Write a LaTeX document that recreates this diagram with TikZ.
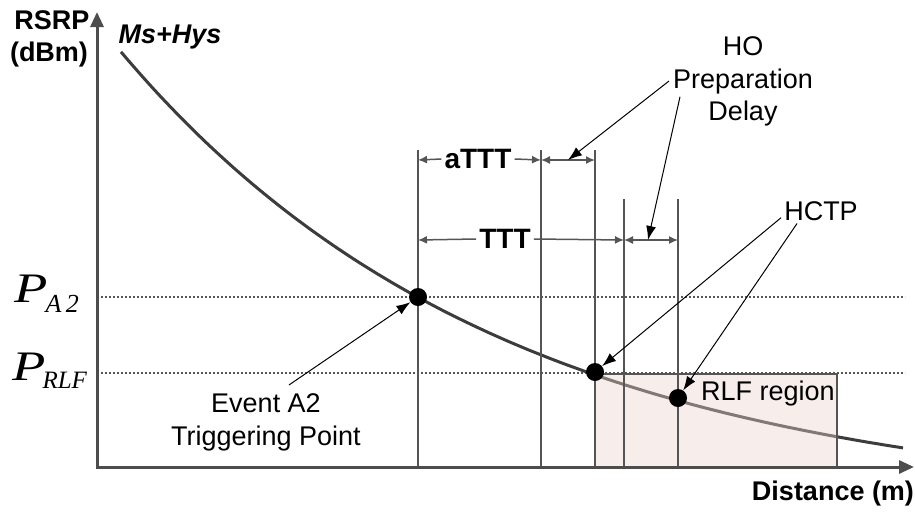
\documentclass[tikz,border=0pt]{standalone}
\usepackage{fontspec}
\setmainfont{Liberation Sans}
\newfontfamily\timesfont{Liberation Serif}
\usetikzlibrary{arrows.meta,calc}

\definecolor{axisgray}{HTML}{4D4D4D}
\definecolor{curvegray}{HTML}{3C3C3C}
\definecolor{linegray}{HTML}{555555}
\definecolor{regionfill}{RGB}{235,212,207}

\begin{document}
\begin{tikzpicture}[x=1pt,y=-1pt,
  axis/.style={draw=axisgray, line width=3pt, -{Triangle[length=15pt,width=13pt]}},
  curve/.style={draw=curvegray, line width=3pt},
  guide/.style={draw=linegray, line width=1.3pt},
  level/.style={draw=linegray, line width=1.2pt, dash pattern=on 2pt off 2pt},
  dim/.style={draw=linegray, line width=1.5pt, {Latex[length=9pt,width=8pt]}-{Latex[length=9pt,width=8pt]}},
  dimhalf/.style={draw=linegray, line width=1.5pt, -{Latex[length=9pt,width=8pt]}},
  ptr/.style={draw=black, line width=1pt, -{Latex[length=14pt,width=10pt]}},
  dot/.style={circle, fill=black, minimum size=18pt, inner sep=0pt},
  lbl/.style={font=\fontsize{27}{33}\selectfont, inner sep=0pt},
  blbl/.style={font=\fontsize{27}{33}\selectfont\bfseries, inner sep=0pt},
  dimlbl/.style={font=\fontsize{28}{33}\selectfont\bfseries, inner xsep=3pt, inner ysep=0pt},
  plbl/.style={font=\timesfont\itshape, inner sep=0pt, anchor=base west},
]
\useasboundingbox (0,0) rectangle (915,512);

% axis end points
\coordinate (O) at (97,467);
\coordinate (ytip) at (97,12);
\coordinate (xtip) at (914,467);

% threshold levels
\coordinate (pa2l) at (97,297);
\coordinate (pa2r) at (905,297);
\coordinate (prlfl) at (97,373);
\coordinate (prlfr) at (905,373);
\draw[level] (pa2l) -- (pa2r);
\draw[level] (prlfl) -- (prlfr);

% received power curve (exponential decay with distance)
\draw[curve] plot[domain=121:903, samples=120] (\x, {507-624*exp(-0.00261*\x)});

% radio link failure region
\fill[regionfill, fill opacity=0.4] (595,374) rectangle (837,467);
\draw[linegray, line width=1.3pt] (595,374) rectangle (837,467);

% time markers
\coordinate (g1t) at (418,150); \coordinate (g1b) at (418,467);
\coordinate (g2t) at (541,150); \coordinate (g2b) at (541,467);
\coordinate (g3t) at (595,150); \coordinate (g3b) at (595,467);
\coordinate (g4t) at (624,199); \coordinate (g4b) at (624,467);
\coordinate (g5t) at (678,199); \coordinate (g5b) at (678,467);
\foreach \g in {1,...,5} \draw[guide] (g\g t) -- (g\g b);

% dimension arrows
\coordinate (r1a) at (418,160); \coordinate (r1b) at (541,160); \coordinate (r1c) at (595,160);
\coordinate (r2a) at (418,240); \coordinate (r2b) at (624,240); \coordinate (r2c) at (678,240);
\node[dimlbl] (attt) at (478,159) {aTTT};
\draw[dimhalf] (attt.west) -- (r1a);
\draw[dimhalf] (attt.east) -- (r1b);
\draw[dim] (r1b) -- (r1c);
\node[dimlbl] (ttt) at (505,239) {TTT};
\draw[dimhalf] (ttt.west) -- (r2a);
\draw[dimhalf] (ttt.east) -- (r2b);
\draw[dim] (r2b) -- (r2c);
\coordinate (hpd1) at (568,160);
\coordinate (hpd2) at (648,240);

% axes
\draw[axis] ([yshift=-1.5pt]O) -- (ytip);
\draw[axis] ([xshift=-1.5pt]O) -- (xtip);

% key points on the curve
\node[dot] (a2dot) at (418,297) {};
\node[dot] (hcdot) at (595,372) {};
\node[dot] (rlfdot) at (678,398) {};

% axis labels
\node[blbl, anchor=base] (rsrp) at (52,29) {RSRP};
\node[blbl, anchor=base] (dbm) at (49,61) {(dBm)};
\node[blbl, anchor=base, font=\fontsize{27}{33}\selectfont\bfseries\itshape] (mshys) at (170,43) {Ms+Hys};
\node[blbl, anchor=base] (dist) at (833,500) {Distance (m)};
\node[plbl] (pa2) at (14,302) {\fontsize{42}{42}\selectfont\scalebox{1.3}[1]{P}\kern-2pt\raisebox{-10pt}{\fontsize{26}{26}\selectfont A\,2}};
\node[plbl] (prlf) at (12,380) {\fontsize{42}{42}\selectfont\scalebox{1.3}[1]{P}\kern-3pt\raisebox{-8pt}{\fontsize{25}{25}\selectfont RLF}};

% annotations
\node[lbl, anchor=base] (rlf) at (768,400) {RLF region};
\node[lbl, anchor=base] (ho) at (743,55) {HO};
\node[lbl, anchor=base] (prep) at (743,88) {Preparation};
\node[lbl, anchor=base] (delay) at (743,120) {Delay};
\node[lbl, anchor=base] (hctp) at (821,220) {HCTP};
\node[lbl, anchor=base] (evt) at (266,412) {Event A2};
\node[lbl, anchor=base] (trig) at (266,445) {Triggering Point};

\draw[ptr] ([xshift=-4pt]prep.west) -- (hpd1);
\draw[ptr] ([shift={(7,3)}]prep.south west) -- (hpd2);
\draw[ptr] ([shift={(-3,7)}]hctp.west) -- (hcdot);
\draw[ptr] ([shift={(13,3)}]hctp.south west) -- (rlfdot);
\draw[ptr] ([shift={(23,-8)}]evt.north) -- (a2dot);
\end{tikzpicture}
\end{document}
